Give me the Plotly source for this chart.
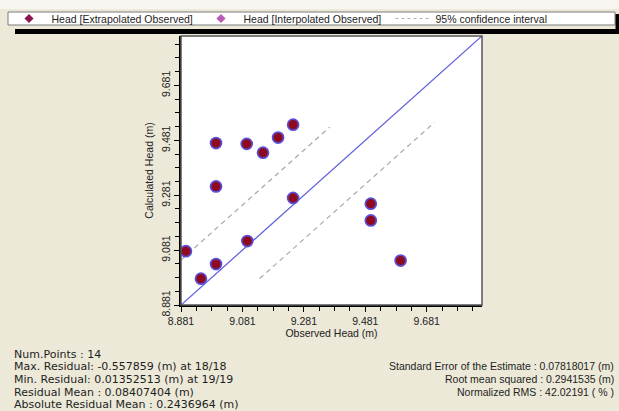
import plotly.graph_objects as go

# ---- data ----
observed = [8.897, 8.946, 8.995, 8.995, 8.995, 9.095, 9.097, 9.148, 9.197, 9.246, 9.246, 9.499, 9.499, 9.596]
calculated = [9.077, 8.977, 9.030, 9.313, 9.471, 9.468, 9.114, 9.436, 9.491, 9.538, 9.271, 9.250, 9.189, 9.043]

axis_min, axis_max = 8.881, 9.861
tick_step = 0.2
minor_step = 0.05

conf_upper_x = [8.881, 9.365]
conf_upper_y = [9.045, 9.529]
conf_lower_x = [9.137, 9.706]
conf_lower_y = [8.977, 9.546]

legend_names = ["Head [Extrapolated Observed]", "Head [Interpolated Observed]", "95% confidence interval"]

stats_left = [
    "Num.Points : 14",
    "Max. Residual: -0.557859 (m) at 18/18",
    "Min. Residual: 0.01352513 (m) at 19/19",
    "Residual Mean : 0.08407404 (m)",
    "Absolute Residual Mean : 0.2436964 (m)",
]
stats_right = [
    "Standard Error of the Estimate : 0.07818017 (m)",
    "Root mean squared : 0.2941535 (m)",
    "Normalized RMS : 42.02191 ( % )",
]

# ---- layout geometry (pixels) ----
W, H = 619, 411
L, R, T, B = 181, 482, 36, 305
PW, PH = R - L, B - T

def px(x):
    return (x - L) / PW

def py(y):
    return (B - y) / PH

FONT = "Liberation Sans, Arial, sans-serif"
FONT_L = "DejaVu Sans, Verdana, sans-serif"
FS = 10.5
BG = "#ECE9D8"
TXT = "#1E1E1E"

fig = go.Figure()

# 1:1 line
fig.add_trace(go.Scatter(
    x=[axis_min, axis_max], y=[axis_min, axis_max], mode="lines",
    line=dict(color="#6262DE", width=1.3), showlegend=False, hoverinfo="skip"))

# confidence interval lines
fig.add_trace(go.Scatter(
    x=conf_upper_x + [None] + conf_lower_x,
    y=conf_upper_y + [None] + conf_lower_y,
    mode="lines", line=dict(color="#A8A8A8", width=1.2, dash="5px,4px"),
    showlegend=False, hoverinfo="skip"))

# data points
fig.add_trace(go.Scatter(
    x=observed, y=calculated, mode="markers",
    marker=dict(symbol="circle", size=11, color="#8E0A1E",
                line=dict(color="#5A50D8", width=1.7)),
    showlegend=False, name=legend_names[0]))

# legend entries (each in its own legend box, positioned like the original)
fig.add_trace(go.Scatter(
    x=[None], y=[None], mode="markers", name=legend_names[0], legend="legend",
    marker=dict(symbol="diamond", size=7, color="#8A1550")))
fig.add_trace(go.Scatter(
    x=[None], y=[None], mode="markers", name=legend_names[1], legend="legend2",
    marker=dict(symbol="diamond", size=7, color="#B85AB8")))
fig.add_trace(go.Scatter(
    x=[None], y=[None], mode="lines", name=legend_names[2], legend="legend3",
    line=dict(color="#B0B0B0", width=1.2, dash="3px,3px")))

shapes = [
    # top light strip
    dict(type="rect", xref="paper", yref="paper", x0=px(0), x1=px(W), y0=py(0), y1=py(9),
         fillcolor="#F7F6F1", line=dict(width=0), layer="below"),
    # legend box
    dict(type="rect", xref="paper", yref="paper", x0=px(8), x1=px(615), y0=py(12), y1=py(25),
         fillcolor="white", line=dict(color="#7A7A7A", width=1), layer="above"),
    # legend right shadow
    dict(type="rect", xref="paper", yref="paper", x0=px(615.5), x1=px(619), y0=py(14), y1=py(29),
         fillcolor="black", line=dict(width=0), layer="above"),
    # black bar
    dict(type="rect", xref="paper", yref="paper", x0=px(15), x1=px(619), y0=py(29), y1=py(34),
         fillcolor="black", line=dict(width=0), layer="above"),
    # plot border (top/right)
    dict(type="rect", xref="paper", yref="paper", x0=0, x1=1, y0=0, y1=1,
         line=dict(color="#555555", width=1.5), layer="above"),
]

annotations = []
left_y = [354, 366, 379, 392, 404]
for txt, yy in zip(stats_left, left_y):
    annotations.append(dict(text=txt, xref="paper", yref="paper", x=px(12), y=py(yy),
                            xanchor="left", yanchor="middle", showarrow=False,
                            font=dict(family=FONT_L, size=11, color=TXT)))
right_y = [366, 379, 392]
for txt, yy in zip(stats_right, right_y):
    annotations.append(dict(text=txt, xref="paper", yref="paper", x=px(616), y=py(yy),
                            xanchor="right", yanchor="middle", showarrow=False,
                            font=dict(family=FONT, size=FS, color=TXT)))

axis_common = dict(
    range=[axis_min, axis_max], tick0=axis_min, dtick=tick_step, tickformat=".3f",
    ticks="outside", ticklen=5, tickcolor="black", tickwidth=1,
    showline=True, linecolor="black", linewidth=2, mirror=False,
    showgrid=False, zeroline=False, automargin=False,
    tickfont=dict(family=FONT, size=FS, color="#222222"),
    minor=dict(tick0=axis_min, dtick=minor_step, ticks="outside", ticklen=4,
               tickcolor="black", tickwidth=1, showgrid=False),
    fixedrange=True,
)

def legend_at(xpix):
    return dict(orientation="h", xref="paper", yref="paper",
                x=px(xpix), y=py(18.5), xanchor="left", yanchor="middle",
                bgcolor="rgba(0,0,0,0)", borderwidth=0, itemwidth=35,
                font=dict(family=FONT, size=FS, color=TXT),
                itemclick=False, itemdoubleclick=False)

fig.update_layout(
    width=W, height=H,
    margin=dict(l=L, r=W - R, t=T, b=H - B, pad=0, autoexpand=False),
    paper_bgcolor=BG, plot_bgcolor="white",
    font=dict(family=FONT, size=FS, color="#222222"),
    xaxis=dict(**axis_common,
               title=dict(text="Observed Head (m)", standoff=4,
                          font=dict(family=FONT, size=FS, color="#222222"))),
    yaxis=dict(**axis_common, tickangle=-90,
               title=dict(text="Calculated Head (m)", standoff=4,
                          font=dict(family=FONT, size=FS, color="#222222"))),
    legend=legend_at(6.5),
    legend2=legend_at(198.5),
    legend3=legend_at(390.5),
    shapes=shapes,
    annotations=annotations,
    showlegend=True,
)

fig.write_html("out.html", config={"displayModeBar": False},
               post_script="document.body.style.margin='0';")
